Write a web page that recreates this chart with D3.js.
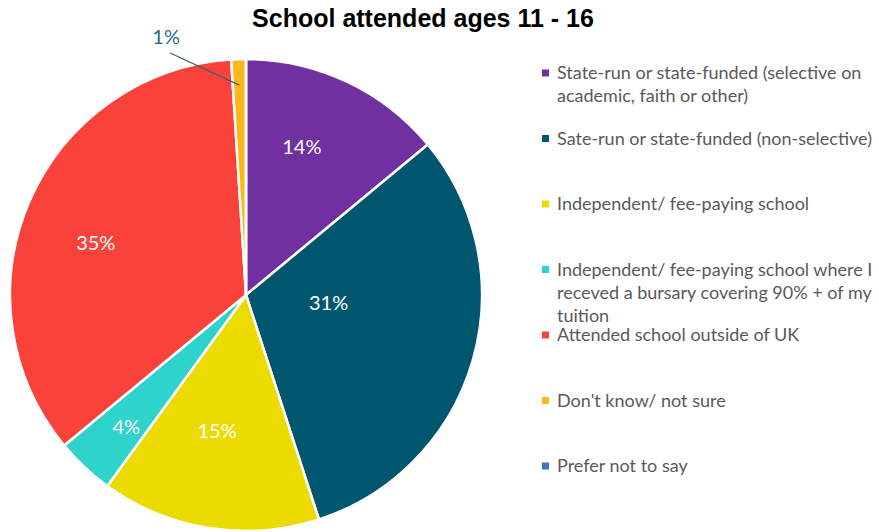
<!DOCTYPE html>
<html>
<head>
<meta charset="utf-8">
<script src="https://cdn.jsdelivr.net/npm/d3@7"></script>
<style>
  body { margin: 0; background: #fff; }
  svg { display: block; }
</style>
</head>
<body>
<svg id="chart" width="879" height="532"></svg>
<script>
const categories = [
    "State-run or state-funded (selective on academic, faith or other)",
    "Sate-run or state-funded (non-selective)",
    "Independent/ fee-paying school",
    "Independent/ fee-paying school where I receved a bursary covering 90% + of my tuition",
    "Attended school outside of UK",
    "Don't know/ not sure",
    "Prefer not to say"
];
const values = [14, 31, 15, 4, 35, 1, 0];
const colors = ["#7030A0", "#00566F", "#EBDB00", "#2ED3CB", "#F9423A", "#FFB81C", "#4472C4"];

// legend lines as wrapped in the picture
const legendLines = [
    ["State-run or state-funded (selective on", "academic, faith or other)"],
    ["Sate-run or state-funded (non-selective)"],
    ["Independent/ fee-paying school"],
    ["Independent/ fee-paying school where I", "receved a bursary covering 90% + of my", "tuition"],
    ["Attended school outside of UK"],
    ["Don't know/ not sure"],
    ["Prefer not to say"]
];

// label placement (radius, angle in degrees from 12 o'clock)
const labelPlace = [[158, 20.7], [83, 95.5], [139, 192], [178, 222.3], [159, 289.1], [270, -17.2], null];

const svg = d3.select("#chart");
const cx = 246, cy = 295, radius = 236;

svg.append("text")
    .attr("x", 423)
    .attr("y", 27)
    .attr("text-anchor", "middle")
    .attr("font-family", "Liberation Sans, Arial, sans-serif")
    .attr("font-weight", "bold")
    .attr("font-size", "25px")
    .attr("fill", "#000")
    .text("School attended ages 11 - 16");

const pie = d3.pie().sort(null).value(d => d);
const arcs = pie(values);
const arc = d3.arc().innerRadius(0).outerRadius(radius);

const g = svg.append("g").attr("transform", `translate(${cx},${cy})`);

g.selectAll("path.slice")
    .data(arcs)
    .enter()
    .append("path")
    .attr("class", "slice")
    .attr("d", arc)
    .attr("fill", (d, i) => colors[i])
    .attr("stroke", "#fff")
    .attr("stroke-width", 2.5)
    .attr("stroke-linejoin", "round");

function polar(r, deg) {
    const a = deg * Math.PI / 180;
    return [r * Math.sin(a), -r * Math.cos(a)];
}

// leader line for the small slice
const small = arcs[5];
const midDeg = (small.startAngle + small.endAngle) / 2 * 180 / Math.PI;
const lEnd = polar(210, midDeg);
const lStart = polar(270, -17.2);
g.append("line")
    .attr("x1", lStart[0] + 4)
    .attr("y1", lStart[1] + 16)
    .attr("x2", lEnd[0])
    .attr("y2", lEnd[1])
    .attr("stroke", "#3B5E72")
    .attr("stroke-width", 1.2);

arcs.forEach((d, i) => {
    if (!labelPlace[i] || values[i] === 0) return;
    const p = polar(labelPlace[i][0], labelPlace[i][1]);
    g.append("text")
        .attr("x", p[0])
        .attr("y", p[1])
        .attr("dy", "0.36em")
        .attr("text-anchor", "middle")
        .attr("font-family", "Lato, sans-serif")
        .attr("font-size", "20px")
        .attr("fill", i === 5 ? "#2B6985" : "#fff")
        .text(values[i] + "%");
});

// legend
const legend = svg.append("g");
categories.forEach((c, i) => {
    const y0 = 73 + i * 65.5;
    const item = legend.append("g").attr("transform", `translate(0,${y0})`);
    item.append("rect")
        .attr("x", 542)
        .attr("y", -3.5)
        .attr("width", 7)
        .attr("height", 7)
        .attr("fill", colors[i]);
    legendLines[i].forEach((line, j) => {
        item.append("text")
            .attr("x", 557)
            .attr("y", j * 23)
            .attr("dy", "0.35em")
            .attr("font-family", "Lato, sans-serif")
            .attr("font-size", "18px")
            .attr("fill", "#595959")
            .text(line);
    });
});
</script>
</body>
</html>
